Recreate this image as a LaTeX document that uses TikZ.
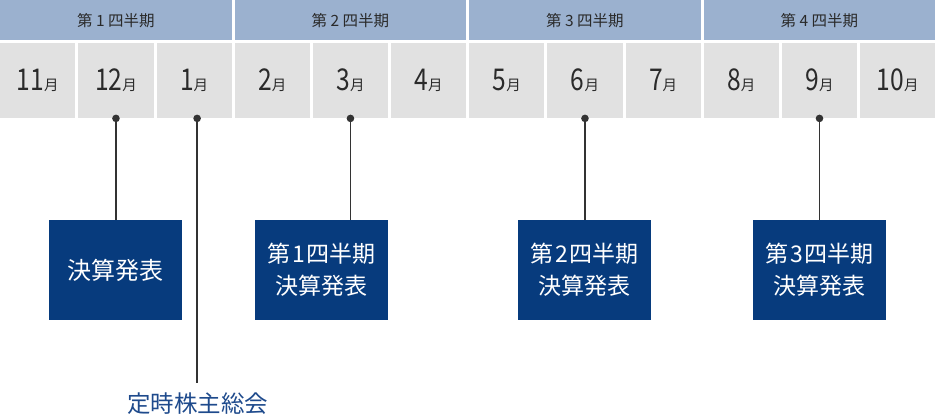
\documentclass[tikz,border=0pt]{standalone}
\usepackage{fontspec}
\usepackage{graphicx}
\setmainfont{Noto Sans CJK JP}
\definecolor{qblue}{HTML}{9BB1CF}
\definecolor{cellgray}{HTML}{E1E1E1}
\definecolor{boxblue}{HTML}{073B7D}
\definecolor{lblblue}{HTML}{1E4A8C}
\definecolor{linegray}{HTML}{333333}
\definecolor{txtgray}{HTML}{2A2A2A}
\newcommand{\mon}[1]{\scalebox{0.82}[1]{\fontsize{30}{30}\selectfont #1}\fontsize{14.5}{15}\selectfont 月}
\begin{document}
\begin{tikzpicture}[x=1pt,y=-1pt,
  qhead/.style={fill=qblue,minimum width=231.5pt,minimum height=40pt,inner sep=0pt,anchor=north west,text=txtgray,font=\fontsize{15.5}{16}\selectfont},
  mcell/.style={fill=cellgray,minimum width=75.17pt,minimum height=75pt,inner sep=0pt,anchor=north west,text=txtgray},
  evbox/.style={fill=boxblue,minimum width=133pt,minimum height=100pt,inner sep=0pt,anchor=north,text=white,align=center,font=\fontsize{23}{32}\selectfont},
  conn/.style={draw=linegray,line width=1.8pt},
  dot/.style={fill=linegray}
]
\useasboundingbox (0,0) rectangle (935,415);
% quarters
\node[qhead] (q1) at (0,0) {第 1 四半期};
\node[qhead] (q2) at (234.5,0) {第 2 四半期};
\node[qhead] (q3) at (469,0) {第 3 四半期};
\node[qhead] (q4) at (703.5,0) {第 4 四半期};
% months
\foreach \i/\m in {1/11,2/12,3/1,4/2,5/3,6/4,7/5,8/6,9/7,10/8,11/9,12/10}{
  \node[mcell] (m\i) at ({(\i-1)*78.17},43) {};
  \node[anchor=base,inner sep=0pt,text=txtgray] (t\i) at ([yshift=-10pt]m\i.center) {\mon{\m}};
}
% boxes
\node[evbox,font=\fontsize{24}{32}\selectfont] (b1) at (115.5,220) {決算発表};
\node[evbox] (b2) at (321.5,220) {第\kern2pt 1\kern2pt 四半期\\決算発表};
\node[evbox] (b3) at (584.5,220) {第\kern2pt 2\kern2pt 四半期\\決算発表};
\node[evbox] (b4) at (819.5,220) {第\kern2pt 3\kern2pt 四半期\\決算発表};
% AGM label
\node[text=lblblue,font=\fontsize{23.5}{25}\selectfont,inner sep=0pt] (agm) at (197.5,404) {定時株主総会};
\coordinate (d3) at ([xshift=3pt]m3.south);
% connectors
\draw[conn] (m2.south) -- (m2.south |- b1.north);
\draw[conn] (d3) -- ([yshift=10pt]d3 |- agm.north);
\draw[conn] (m5.south) -- (m5.south |- b2.north);
\draw[conn] (m8.south) -- (m8.south |- b3.north);
\draw[conn] (m11.south) -- (m11.south |- b4.north);
\foreach \p in {m2.south,d3,m5.south,m8.south,m11.south}{
  \fill[dot] (\p) circle (3.8pt);
}
\end{tikzpicture}
\end{document}
